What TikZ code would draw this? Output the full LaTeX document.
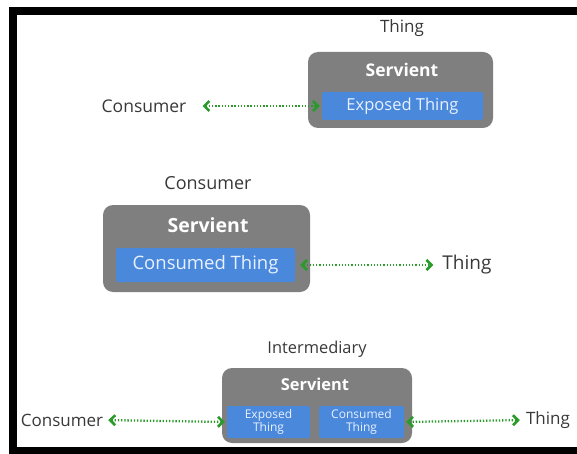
\documentclass[tikz,border=0pt]{standalone}
\usepackage{fontspec}
\setmainfont{Open Sans}
\usetikzlibrary{arrows.meta}
\definecolor{srvgray}{HTML}{7F7F7F}
\definecolor{bluebox}{HTML}{4A88DC}
\definecolor{bluetext}{HTML}{E8F1FF}
\definecolor{linkgreen}{HTML}{2A9A2A}
\definecolor{txtgray}{HTML}{383838}
\begin{document}
\begin{tikzpicture}[x=1pt,y=-1pt,
  lbl/.style={inner sep=0pt, text=txtgray},
  srv/.style={fill=srvgray, rounded corners=10pt, inner sep=0pt},
  srvlbl/.style={inner sep=0pt, text=white, font=\bfseries},
  blu/.style={fill=bluebox, rounded corners=2pt, inner sep=0pt, text=bluetext, align=center},
  link/.style={draw=linkgreen, line width=2.3pt, dash pattern=on 1.3pt off 1.9pt,
    {Straight Barb[length=5pt,width=10pt,line width=2.6pt]}-{Straight Barb[length=5pt,width=10pt,line width=2.6pt]}}
]
\useasboundingbox (0,0) rectangle (577,454);
% frame
\fill[black] (9,7) rectangle (577,15);
\fill[black] (9,7) rectangle (17,454);
\fill[black] (9,447) rectangle (577,454);

% section 1
\node[lbl, font=\fontsize{17}{20}\selectfont] (t1) at (402,28) {Thing};
\node[srv, minimum width=185pt, minimum height=76pt] (s1) at (400.5,90) {};
\node[srvlbl, font=\fontsize{17.5}{20}\selectfont\bfseries] (sl1) at (402,70) {Servient};
\node[blu, minimum width=161pt, minimum height=28pt, font=\fontsize{16.5}{19}\selectfont] (e1) at (402.5,106) {Exposed Thing};
\node[lbl, font=\fontsize{17.5}{20}\selectfont] (c1) at (144,106) {Consumer};
\draw[link, shorten <=16pt, shorten >=2pt] (c1.east) -- (e1.west);

% section 2
\node[lbl, font=\fontsize{18}{21}\selectfont] (c2) at (208,183) {Consumer};
\node[srv, minimum width=207pt, minimum height=87pt] (s2) at (206.5,248.5) {};
\node[srvlbl, font=\fontsize{19.5}{22}\selectfont\bfseries] (sl2) at (208,225) {Servient};
\node[blu, minimum width=179pt, minimum height=34pt, font=\fontsize{18.5}{21}\selectfont] (k2) at (205.5,265) {Consumed Thing};
\node[lbl, font=\fontsize{19}{22}\selectfont] (t2) at (467,265) {Thing};
\draw[link, shorten <=5pt, shorten >=9pt] (k2.east) -- (t2.west);

% section 3
\node[lbl, font=\fontsize{16.4}{19}\selectfont] (i3) at (317,349) {Intermediary};
\node[srv, minimum width=190pt, minimum height=75pt] (s3) at (317,405.5) {};
\node[srvlbl, font=\fontsize{16.4}{19}\selectfont\bfseries] (sl3) at (315,384) {Servient};
\node[blu, minimum width=83pt, minimum height=32pt, font=\fontsize{12}{12.5}\selectfont] (e3) at (268.5,422) {Exposed\\Thing};
\node[blu, minimum width=85pt, minimum height=32pt, font=\fontsize{12}{12.5}\selectfont] (k3) at (361.5,422) {Consumed\\Thing};
\node[lbl, font=\fontsize{17}{20}\selectfont] (c3) at (62,420) {Consumer};
\node[lbl, font=\fontsize{17}{20}\selectfont] (t3) at (548,420) {Thing};
\draw[link, shorten <=5pt, shorten >=2pt] (c3.east) -- (e3.west);
\draw[link, shorten <=2pt, shorten >=6pt] (k3.east) -- (t3.west);
\end{tikzpicture}
\end{document}
